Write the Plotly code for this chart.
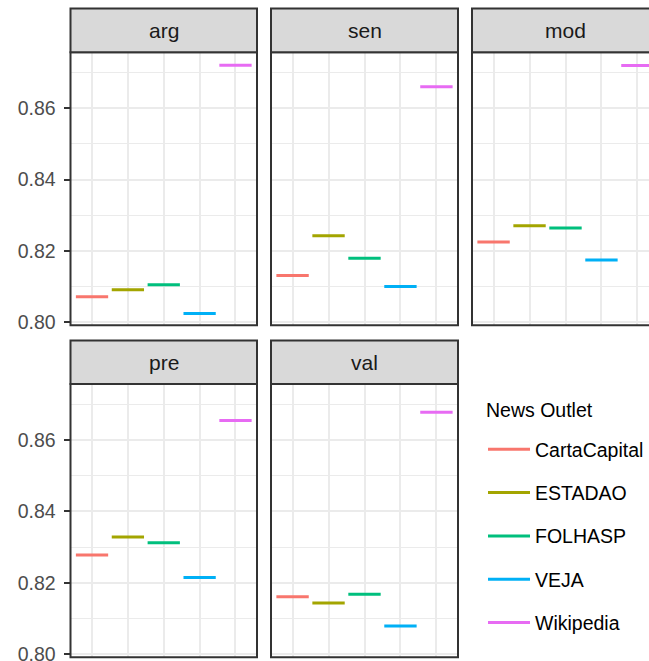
import plotly.graph_objects as go

# ---------------- data ----------------
facets = ["arg", "sen", "mod", "pre", "val"]
outlets = ["CartaCapital", "ESTADAO", "FOLHASP", "VEJA", "Wikipedia"]
colors = ["#F8766D", "#A3A500", "#00BF7D", "#00B0F6", "#E76BF3"]

arg = [0.8071, 0.8091, 0.8105, 0.8024, 0.8721]
sen = [0.8131, 0.8242, 0.8179, 0.8100, 0.8660]
mod = [0.8225, 0.8270, 0.8264, 0.8174, 0.8720]
pre = [0.8278, 0.8328, 0.8312, 0.8215, 0.8655]
val = [0.8161, 0.8143, 0.8168, 0.8079, 0.8678]
values = {"arg": arg, "sen": sen, "mod": mod, "pre": pre, "val": val}

y_ticks = [0.80, 0.82, 0.84, 0.86]
y_tick_labels = ["0.80", "0.82", "0.84", "0.86"]

# ---------------- geometry (page pixels) ----------------
W, H = 649, 661


def px(x):
    return x / W


def py(y):
    return 1 - y / H


col_px = [(70.5, 257.0), (271.0, 458.0), (472.0, 659.0)]
strip_px = [(8.5, 52.3), (340.5, 384.0)]
panel_px = [(52.3, 325.3), (384.0, 657.3)]
y_range = [0.7991, 0.8757]
FONT = "Liberation Sans, Arial, Helvetica, sans-serif"
GRID = "#EBEBEB"
DARK = "#333333"

fig = go.Figure()
layout = {}
shapes = []
annotations = []

for k, facet in enumerate(facets):
    r, c = divmod(k, 3)
    ax = "" if k == 0 else str(k + 1)
    x0, x1 = col_px[c]
    vis_x1 = min(x1, W)
    x_hi = 0.4 + 5.2 * (vis_x1 - x0) / (x1 - x0)
    py0, py1 = panel_px[r]
    sy0, sy1 = strip_px[r]

    layout["xaxis" + ax] = dict(
        domain=[px(x0), px(vis_x1)], range=[0.4, x_hi], automargin=False,
        tickvals=[1, 2, 3, 4, 5], showticklabels=False, ticks="",
        showgrid=True, gridcolor=GRID, gridwidth=2, zeroline=False,
        anchor="y" + ax, fixedrange=True,
    )
    layout["yaxis" + ax] = dict(
        domain=[py(py1), py(py0)], range=y_range, automargin=False,
        tickvals=y_ticks, ticktext=y_tick_labels, ticklabeloverflow="allow",
        showticklabels=(c == 0), ticks="outside" if c == 0 else "",
        ticklen=6, tickwidth=2, tickcolor=DARK, ticklabelstandoff=4,
        tickfont=dict(family=FONT, size=19.5, color="#4D4D4D"),
        showgrid=True, gridcolor=GRID, gridwidth=2, zeroline=False,
        minor=dict(dtick=0.01, tick0=0.80, showgrid=True, gridcolor=GRID, gridwidth=1.2),
        anchor="x" + ax, fixedrange=True,
    )

    for j, outlet in enumerate(outlets):
        v = values[facet][j]
        fig.add_trace(go.Scatter(
            x=[j + 1 - 0.45, j + 1 + 0.45], y=[v, v], mode="lines",
            line=dict(color=colors[j], width=3),
            name=outlet, legendgroup=outlet, showlegend=(k == 0),
            xaxis="x" + ax, yaxis="y" + ax, hoverinfo="skip",
        ))

    # panel border
    shapes.append(dict(type="rect", xref="paper", yref="paper",
                       x0=px(x0), x1=px(x1), y0=py(py1), y1=py(py0),
                       line=dict(color=DARK, width=2), fillcolor="rgba(0,0,0,0)", layer="above"))
    # strip
    shapes.append(dict(type="rect", xref="paper", yref="paper",
                       x0=px(x0), x1=px(x1), y0=py(sy1), y1=py(sy0),
                       line=dict(color=DARK, width=2), fillcolor="#D9D9D9", layer="above"))
    annotations.append(dict(text=facet, xref="paper", yref="paper",
                            x=px((x0 + x1) / 2), y=py((sy0 + sy1) / 2),
                            xanchor="center", yanchor="middle", showarrow=False,
                            font=dict(family=FONT, size=21, color="#1A1A1A")))

# legend title
annotations.append(dict(text="News Outlet", xref="paper", yref="paper",
                        x=px(484), y=py(410), xanchor="left", yanchor="middle",
                        showarrow=False, font=dict(family=FONT, size=19.5, color="black")))

fig.update_layout(
    **layout,
    width=W, height=H,
    margin=dict(l=0, r=0, t=0, b=0, autoexpand=False),
    paper_bgcolor="white", plot_bgcolor="white",
    shapes=shapes, annotations=annotations,
    showlegend=True,
    legend=dict(
        font=dict(family=FONT, size=19.5, color="black"),
        x=px(483), y=py(430), xanchor="left", yanchor="top",
        tracegroupgap=15, itemwidth=42, bgcolor="rgba(0,0,0,0)",
    ),
)

fig.write_html(
    "out.html",
    config={"displayModeBar": False},
    post_script="document.body.style.margin='0';document.body.style.overflow='hidden';",
)
